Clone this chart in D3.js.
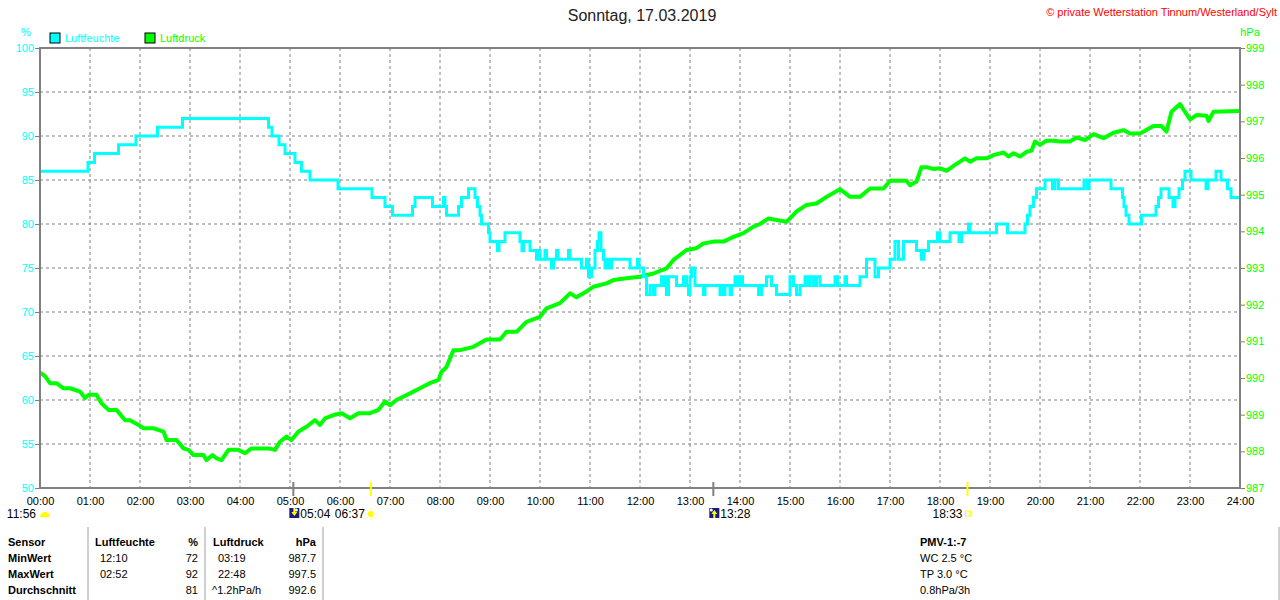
<!DOCTYPE html>
<html>
<head>
<meta charset="utf-8">
<script src="https://cdn.jsdelivr.net/npm/d3@7"></script>
<style>
    body { margin: 0; background: #fff; }
    svg { display: block; font-family: "Liberation Sans", Arial, sans-serif; }
</style>
</head>
<body>
<svg id="chart"></svg>
<script>
// Humidity (step values, [hour, %])
const humidity = [
    [0, 86], [0.96, 87], [1.09, 88], [1.57, 89], [1.92, 90], [2.35, 91], [2.85, 92],
    [4.57, 91], [4.64, 90], [4.78, 89], [4.9, 88], [5.1, 87], [5.23, 86], [5.4, 85],
    [5.96, 84], [6.64, 83], [6.9, 82], [7.05, 81], [7.45, 82], [7.5, 83], [7.85, 82],
    [8.07, 83], [8.1, 82], [8.13, 81], [8.37, 82], [8.43, 83], [8.57, 84], [8.7, 83],
    [8.75, 82], [8.8, 81], [8.83, 80], [8.97, 79], [9.0, 78], [9.15, 77], [9.18, 78],
    [9.3, 79], [9.6, 78], [9.64, 77], [9.67, 78], [9.8, 77], [9.93, 76], [9.97, 77],
    [10.0, 76], [10.1, 77], [10.13, 76], [10.23, 75], [10.27, 76], [10.33, 77], [10.36, 76],
    [10.57, 77], [10.6, 76], [10.83, 75], [10.93, 76], [10.97, 74], [11.03, 75], [11.1, 77],
    [11.15, 78], [11.18, 79], [11.22, 77], [11.27, 76], [11.3, 75], [11.33, 76], [11.37, 75],
    [11.43, 76], [11.8, 75], [11.95, 76], [11.98, 75], [12.07, 74], [12.13, 72], [12.2, 73],
    [12.27, 72], [12.3, 73], [12.43, 74], [12.47, 73], [12.5, 74], [12.53, 72], [12.57, 74],
    [12.73, 73], [12.87, 74], [12.93, 73], [12.97, 72], [13.0, 74], [13.03, 75], [13.1, 73],
    [13.27, 72], [13.3, 73], [13.6, 72], [13.63, 73], [13.67, 72], [13.7, 73], [13.8, 72],
    [13.83, 73], [13.9, 74], [13.95, 73], [14.0, 74], [14.05, 73], [14.37, 72], [14.43, 73],
    [14.53, 74], [14.63, 73], [14.73, 72], [15.0, 74], [15.07, 73], [15.13, 72], [15.2, 73],
    [15.3, 74], [15.35, 73], [15.4, 74], [15.47, 73], [15.53, 74], [15.6, 73], [15.9, 74],
    [15.95, 73], [16.1, 74], [16.13, 73], [16.4, 74], [16.53, 76], [16.7, 74], [16.77, 75],
    [17.0, 76], [17.1, 78], [17.17, 76], [17.27, 78], [17.53, 77], [17.63, 76], [17.68, 77],
    [17.77, 78], [17.95, 79], [18.0, 78], [18.2, 79], [18.38, 78], [18.43, 79], [18.57, 80],
    [18.6, 79], [19.13, 80], [19.35, 79], [19.7, 80], [19.75, 81], [19.8, 82], [19.87, 83],
    [19.93, 84], [20.1, 85], [20.25, 84], [20.3, 85], [20.37, 84], [20.88, 85], [20.95, 84],
    [20.98, 85], [21.42, 84], [21.65, 83], [21.68, 82], [21.72, 81], [21.78, 80], [22.03, 81],
    [22.32, 82], [22.37, 83], [22.42, 84], [22.58, 83], [22.66, 82], [22.7, 83], [22.78, 84],
    [22.85, 85], [22.9, 86], [23.02, 85], [23.32, 84], [23.36, 85], [23.52, 86], [23.62, 85],
    [23.75, 84], [23.82, 83], [24, 83]
];

// Pressure ([hour, hPa])
const pressure = [
    [0, 990.15], [0.1, 990.05], [0.2, 989.86], [0.33, 989.86], [0.47, 989.72], [0.6, 989.72],
    [0.8, 989.63], [0.9, 989.45], [0.97, 989.54], [1.13, 989.54], [1.23, 989.31], [1.37, 989.13],
    [1.53, 989.13], [1.7, 988.85], [1.8, 988.85], [1.97, 988.72], [2.07, 988.63], [2.27, 988.63],
    [2.47, 988.54], [2.53, 988.31], [2.73, 988.31], [2.87, 988.08], [2.97, 988.04], [3.07, 987.9],
    [3.27, 987.9], [3.33, 987.76], [3.45, 987.9], [3.53, 987.81], [3.63, 987.76], [3.77, 988.04],
    [3.97, 988.04], [4.1, 987.95], [4.23, 988.08], [4.57, 988.08], [4.7, 988.04], [4.8, 988.26],
    [4.93, 988.4], [5.03, 988.31], [5.17, 988.54], [5.33, 988.67], [5.5, 988.85], [5.6, 988.72],
    [5.7, 988.9], [5.87, 988.99], [6.03, 989.04], [6.2, 988.9], [6.37, 989.04], [6.6, 989.04],
    [6.77, 989.13], [6.9, 989.36], [7.0, 989.26], [7.13, 989.4], [7.4, 989.58], [7.6, 989.72],
    [7.8, 989.86], [7.97, 989.95], [8.03, 990.17], [8.13, 990.3], [8.27, 990.76], [8.4, 990.76],
    [8.67, 990.85], [8.93, 991.05], [9.2, 991.05], [9.33, 991.26], [9.53, 991.26], [9.73, 991.53],
    [10.0, 991.67], [10.13, 991.9], [10.4, 992.04], [10.6, 992.31], [10.73, 992.2], [10.93, 992.36],
    [11.07, 992.49], [11.33, 992.58], [11.47, 992.67], [11.73, 992.72], [12.0, 992.76], [12.27, 992.85],
    [12.53, 992.99], [12.67, 993.22], [12.93, 993.49], [13.13, 993.54], [13.27, 993.67], [13.47, 993.72],
    [13.67, 993.72], [13.87, 993.85], [14.07, 993.95], [14.27, 994.13], [14.4, 994.2], [14.57, 994.35],
    [14.73, 994.31], [14.93, 994.26], [15.13, 994.54], [15.33, 994.72], [15.53, 994.76], [15.73, 994.94],
    [16.0, 995.15], [16.2, 994.94], [16.4, 994.94], [16.6, 995.17], [16.87, 995.17], [17.0, 995.38],
    [17.33, 995.38], [17.4, 995.26], [17.53, 995.36], [17.63, 995.75], [17.73, 995.75], [17.87, 995.7],
    [18.0, 995.72], [18.13, 995.65], [18.3, 995.81], [18.5, 995.99], [18.6, 995.9], [18.73, 995.99],
    [18.93, 995.99], [19.07, 996.08], [19.27, 996.15], [19.37, 996.04], [19.47, 996.13], [19.6, 996.04],
    [19.73, 996.17], [19.83, 996.2], [19.9, 996.45], [20.0, 996.36], [20.13, 996.47], [20.27, 996.47],
    [20.4, 996.45], [20.6, 996.45], [20.73, 996.56], [20.9, 996.49], [21.07, 996.65], [21.27, 996.54],
    [21.47, 996.69], [21.67, 996.76], [21.8, 996.67], [22.0, 996.67], [22.27, 996.87], [22.43, 996.87],
    [22.53, 996.72], [22.63, 997.26], [22.8, 997.47], [23.0, 997.05], [23.13, 997.17], [23.33, 997.15],
    [23.37, 997.01], [23.47, 997.26], [24.0, 997.28]
];

const hourTicks = d3.range(0, 25);
const humTicks = d3.range(50, 101, 5);
const presTicks = d3.range(987, 1000, 1);

// sun / moon events below the axis
const moonRise = { hour: 5 + 4 / 60, label: "05:04" };
const sunRise = { hour: 6 + 37 / 60, label: "06:37" };
const moonSet = { hour: 13 + 28 / 60, label: "13:28" };
const sunSet = { hour: 18 + 33 / 60, label: "18:33" };
const moonLabel = "11:56";

// stats table
const tableHead = ["Sensor", "MinWert", "MaxWert", "Durchschnitt"];
const humTimes = ["12:10", "02:52", ""];
const humValues = ["72", "92", "81"];
const presTimes = ["03:19", "22:48", "^1.2hPa/h"];
const presValues = ["987.7", "997.5", "992.6"];
const extraLines = ["PMV-1:-7", "WC 2.5 °C", "TP 3.0 °C", "0.8hPa/3h"];

const W = 1280, H = 600;
const pLeft = 40, pRight = 1240, pTop = 48, pBottom = 488;
const cyan = "#00ffff", green = "#00ff00", grey = "#808080";

const svg = d3.select("#chart").attr("width", W).attr("height", H);

const x = d3.scaleLinear().domain([0, 24]).range([pLeft, pRight]);
const yH = d3.scaleLinear().domain([50, 100]).range([pBottom, pTop]);
const yP = d3.scaleLinear().domain([987, 999]).range([pBottom, pTop]);

// grid
svg.append("g").selectAll("line")
    .data(hourTicks.slice(1, -1))
    .join("line")
    .attr("x1", d => x(d)).attr("x2", d => x(d))
    .attr("y1", pTop).attr("y2", pBottom)
    .attr("stroke", grey).attr("stroke-dasharray", "3,3");

svg.append("g").selectAll("line")
    .data(humTicks.slice(1, -1))
    .join("line")
    .attr("x1", pLeft).attr("x2", pRight)
    .attr("y1", d => yH(d)).attr("y2", d => yH(d))
    .attr("stroke", grey).attr("stroke-dasharray", "3,3");

// lines
const humLine = d3.line()
    .x(d => x(d[0])).y(d => yH(d[1]))
    .curve(d3.curveStepAfter);

const presLine = d3.line()
    .x(d => x(d[0])).y(d => yP(d[1]));

svg.append("path")
    .datum(pressure)
    .attr("d", presLine)
    .attr("fill", "none")
    .attr("stroke", green)
    .attr("stroke-width", 4)
    .attr("stroke-linejoin", "round");

svg.append("path")
    .datum(humidity)
    .attr("d", humLine)
    .attr("fill", "none")
    .attr("stroke", cyan)
    .attr("stroke-width", 3);

// frame
svg.append("rect")
    .attr("x", pLeft).attr("y", pTop)
    .attr("width", pRight - pLeft).attr("height", pBottom - pTop)
    .attr("fill", "none").attr("stroke", grey).attr("stroke-width", 2);

// left axis (humidity)
const axL = svg.append("g").attr("transform", `translate(${pLeft},0)`)
    .call(d3.axisLeft(yH).tickValues(humTicks).tickSize(5).tickPadding(1));
axL.select(".domain").remove();
axL.selectAll("line").attr("stroke", grey);
axL.selectAll("text").attr("fill", cyan).style("font-size", "11px").attr("font-family", null);

// right axis (pressure)
const axR = svg.append("g").attr("transform", `translate(${pRight},0)`)
    .call(d3.axisRight(yP).tickValues(presTicks).tickFormat(d3.format("d")).tickSize(5).tickPadding(1));
axR.select(".domain").remove();
axR.selectAll("line").attr("stroke", grey);
axR.selectAll("text").attr("fill", green).style("font-size", "11px").attr("font-family", null);

// bottom axis (hours)
const axB = svg.append("g").attr("transform", `translate(0,${pBottom})`)
    .call(d3.axisBottom(x).tickValues(hourTicks).tickSize(0).tickPadding(9)
        .tickFormat(d => String(d).padStart(2, "0") + ":00"));
axB.select(".domain").remove();
axB.selectAll("text").attr("fill", "#000").style("font-size", "11px").attr("font-family", null);

// unit labels
svg.append("text").attr("x", 26).attr("y", 36).attr("text-anchor", "middle")
    .attr("fill", cyan).style("font-size", "11px").text("%");
svg.append("text").attr("x", 1250).attr("y", 36).attr("text-anchor", "middle")
    .attr("fill", green).style("font-size", "11px").text("hPa");

// legend
const legend = [["Luftfeuchte", cyan, 50], ["Luftdruck", green, 145]];
legend.forEach(([name, col, lx]) => {
    svg.append("rect").attr("x", lx).attr("y", 33).attr("width", 10).attr("height", 10)
        .attr("fill", col).attr("stroke", "#000").attr("stroke-width", 1);
    svg.append("text").attr("x", lx + 15).attr("y", 42)
        .attr("fill", col).style("font-size", "11px").text(name);
});

// title + copyright
svg.append("text").attr("x", 642).attr("y", 21).attr("text-anchor", "middle")
    .attr("fill", "#222").style("font-size", "16px").text("Sonntag, 17.03.2019");
svg.append("text").attr("x", 1277).attr("y", 16).attr("text-anchor", "end")
    .attr("fill", "#ff0000").style("font-size", "11px")
    .text("© private Wetterstation Tinnum/Westerland/Sylt");

// sun / moon marks on the axis
[moonRise, moonSet].forEach(e => {
    svg.append("line").attr("x1", x(e.hour)).attr("x2", x(e.hour))
        .attr("y1", 482).attr("y2", 496).attr("stroke", grey).attr("stroke-width", 2);
});
[sunRise, sunSet].forEach(e => {
    svg.append("line").attr("x1", x(e.hour)).attr("x2", x(e.hour))
        .attr("y1", 482).attr("y2", 496).attr("stroke", "#ffff00").attr("stroke-width", 2);
});

const evY = 518;
// moon phase at the left
svg.append("text").attr("x", 36).attr("y", evY).attr("text-anchor", "end")
    .style("font-size", "12px").text(moonLabel);
svg.append("path")
    .attr("d", d3.arc()({ innerRadius: 0, outerRadius: 5, startAngle: -Math.PI / 2, endAngle: Math.PI / 2 }))
    .attr("transform", `translate(45,${evY - 1})`)
    .attr("fill", "#ffff00");

// moon rise / set icons
[moonRise, moonSet].forEach((e, i) => {
    const ix = x(e.hour) - 4;
    svg.append("rect").attr("x", ix).attr("y", 508).attr("width", 10).attr("height", 10).attr("fill", "#1a1a80");
    svg.append("circle").attr("cx", ix + (i ? 2 : 7)).attr("cy", 510).attr("r", 1.5).attr("fill", "#fff");
    svg.append("path")
        .attr("d", i
            ? `M${ix + 5},510 L${ix + 2},514 L${ix + 4},514 L${ix + 4},518 L${ix + 6},518 L${ix + 6},514 L${ix + 8},514 Z`
            : `M${ix + 2},512 L${ix + 4},512 L${ix + 4},508 L${ix + 6},508 L${ix + 6},512 L${ix + 8},512 L${ix + 5},516 Z`)
        .attr("fill", "#ffff00");
    svg.append("text").attr("x", ix + 11).attr("y", evY).style("font-size", "12px").text(e.label);
});

// sunrise
svg.append("text").attr("x", x(sunRise.hour) - 6).attr("y", evY).attr("text-anchor", "end")
    .style("font-size", "12px").text(sunRise.label);
svg.append("circle").attr("cx", x(sunRise.hour)).attr("cy", evY - 4).attr("r", 3).attr("fill", "#ffff00");
svg.append("g").selectAll("line")
    .data(d3.range(8))
    .join("line")
    .attr("x1", d => x(sunRise.hour) + Math.cos(d * Math.PI / 4) * 4)
    .attr("y1", d => evY - 4 + Math.sin(d * Math.PI / 4) * 4)
    .attr("x2", d => x(sunRise.hour) + Math.cos(d * Math.PI / 4) * 6)
    .attr("y2", d => evY - 4 + Math.sin(d * Math.PI / 4) * 6)
    .attr("stroke", "#ffff80").attr("stroke-width", 1);

// sunset
svg.append("text").attr("x", x(sunSet.hour) - 5).attr("y", evY).attr("text-anchor", "end")
    .style("font-size", "12px").text(sunSet.label);
svg.append("rect").attr("x", x(sunSet.hour) - 2).attr("y", evY - 7).attr("width", 5).attr("height", 5)
    .attr("fill", "none").attr("stroke", "#ffff00");

// stats table
[88, 205, 323].forEach(sx => {
    svg.append("line").attr("x1", sx).attr("x2", sx).attr("y1", 527).attr("y2", 600)
        .attr("stroke", "#a0a0a0");
});
svg.append("line").attr("x1", 1279).attr("x2", 1279).attr("y1", 527).attr("y2", 600)
    .attr("stroke", "#a0a0a0");

const rowY = [546, 562, 578, 594];
const tbl = svg.append("g").style("font-size", "11px").attr("fill", "#000");
tableHead.forEach((t, i) => {
    tbl.append("text").attr("x", 8).attr("y", rowY[i]).style("font-weight", "bold").text(t);
});
tbl.append("text").attr("x", 95).attr("y", rowY[0]).style("font-weight", "bold").text("Luftfeuchte");
tbl.append("text").attr("x", 198).attr("y", rowY[0]).attr("text-anchor", "end").style("font-weight", "bold").text("%");
tbl.append("text").attr("x", 213).attr("y", rowY[0]).style("font-weight", "bold").text("Luftdruck");
tbl.append("text").attr("x", 316).attr("y", rowY[0]).attr("text-anchor", "end").style("font-weight", "bold").text("hPa");

humTimes.forEach((t, i) => {
    tbl.append("text").attr("x", 100).attr("y", rowY[i + 1]).text(t);
    tbl.append("text").attr("x", 198).attr("y", rowY[i + 1]).attr("text-anchor", "end").text(humValues[i]);
});
presTimes.forEach((t, i) => {
    tbl.append("text").attr("x", i === 2 ? 212 : 218).attr("y", rowY[i + 1]).text(t);
    tbl.append("text").attr("x", 316).attr("y", rowY[i + 1]).attr("text-anchor", "end").text(presValues[i]);
});
extraLines.forEach((t, i) => {
    tbl.append("text").attr("x", 920).attr("y", rowY[i])
        .style("font-weight", i === 0 ? "bold" : "normal").text(t);
});
</script>
</body>
</html>
